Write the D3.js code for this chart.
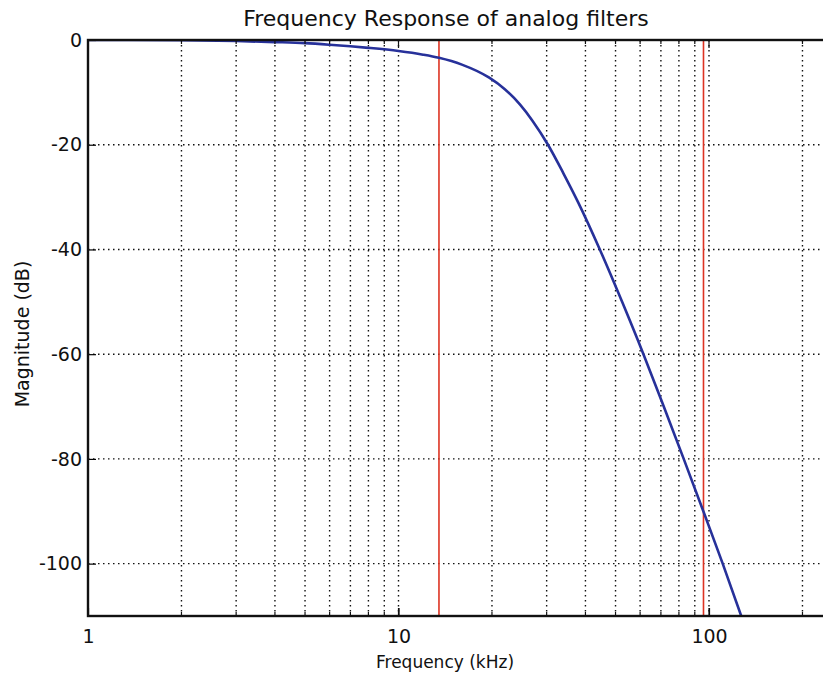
<!DOCTYPE html>
<html>
<head>
<meta charset="utf-8">
<script src="https://cdn.jsdelivr.net/npm/d3@7"></script>
<style>
  body { margin: 0; background: #fff; }
  text { font-family: "DejaVu Sans", sans-serif; fill: #111; }
</style>
</head>
<body>
<svg id="chart" width="823" height="675"></svg>
<script>
// values (kHz, dB)
let freqs = [1, 2, 3, 4, 5, 6, 7, 8, 10, 12, 13.5, 16, 19.6, 22, 24.6, 27, 30.3, 34, 37.9, 44.5, 52.5, 61.5, 71.5, 82.9, 97.3, 110.7, 127];
let magDb = [0, -0.05, -0.2, -0.4, -0.6, -0.9, -1.2, -1.5, -2.1, -2.8, -3.4, -4.7, -7.2, -9.4, -12.3, -15.4, -20, -25.5, -31, -40, -50, -60, -70, -80, -91, -100, -110];
let markers = [13.5, 96];
let xTickVals = [1, 10, 100];
let yTickVals = [0, -20, -40, -60, -80, -100];

let padL = 88, padT = 40, padB = 616;

let svg = d3.select("#chart");

let x = d3.scaleLog().domain([1, 1000]).range([padL, padL + 3 * 310.5]);
let y = d3.scaleLinear().domain([-110, 0]).range([padB, padT]);

let padR = x(1000);

svg.append("clipPath").attr("id", "plotclip")
.append("rect")
.attr("x", padL).attr("y", padT)
.attr("width", padR - padL).attr("height", padB - padT);

// grid: 2..10 in every decade
let minor = [];
for (let d = 1; d < 1000; d *= 10) {
  for (let k = 2; k <= 10; k++) minor.push(d * k);
}

let grid = svg.append("g");

grid.selectAll(".vgrid")
.data(minor)
.enter()
.append("line")
.attr("x1", d => x(d)).attr("x2", d => x(d))
.attr("y1", padT).attr("y2", padB)
.attr("stroke", "#111")
.attr("stroke-width", 1.4)
.attr("stroke-dasharray", "1.5,3.5");

grid.selectAll(".hgrid")
.data(yTickVals.slice(1))
.enter()
.append("line")
.attr("x1", padL).attr("x2", padR)
.attr("y1", d => y(d)).attr("y2", d => y(d))
.attr("stroke", "#111")
.attr("stroke-width", 1.4)
.attr("stroke-dasharray", "1.5,3.5");

// red marker lines
let plot = svg.append("g").attr("clip-path", "url(#plotclip)");

plot.selectAll(".marker")
.data(markers)
.enter()
.append("line")
.attr("x1", d => x(d)).attr("x2", d => x(d))
.attr("y1", padT).attr("y2", padB)
.attr("stroke", "#dd3322")
.attr("stroke-width", 1.6);

// response curve
let line = d3.line()
.x((d, i) => x(freqs[i]))
.y(d => y(d))
.curve(d3.curveMonotoneX);

plot.append("path")
.attr("d", line(magDb))
.attr("fill", "none")
.attr("stroke", "#27319a")
.attr("stroke-width", 2.6);

// axes (ticks inward, like matplotlib)
let xAxis = d3.axisBottom(x)
.tickValues(xTickVals)
.tickFormat(d3.format("d"))
.tickSizeInner(-8)
.tickSizeOuter(0)
.tickPadding(14);

let gx = svg.append("g")
.attr("transform", `translate(0,${padB})`)
.call(xAxis);

gx.select(".domain").remove();
gx.selectAll("text").attr("font-size", 19).attr("font-family", "DejaVu Sans").attr("fill", "#111");

// minor ticks along bottom and top
let minorTicks = svg.append("g");
minor.forEach(v => {
  let len = Number.isInteger(Math.log10(v)) ? 8 : 4;
  minorTicks.append("line")
  .attr("x1", x(v)).attr("x2", x(v))
  .attr("y1", padB).attr("y2", padB - len)
  .attr("stroke", "#111").attr("stroke-width", 1.2);
  minorTicks.append("line")
  .attr("x1", x(v)).attr("x2", x(v))
  .attr("y1", padT).attr("y2", padT + len)
  .attr("stroke", "#111").attr("stroke-width", 1.2);
});

let yAxis = d3.axisLeft(y)
.tickValues(yTickVals)
.tickFormat(d => d === 0 ? "0" : "-" + Math.abs(d))
.tickSizeInner(-8)
.tickSizeOuter(0)
.tickPadding(6);

let gy = svg.append("g")
.attr("transform", `translate(${padL},0)`)
.call(yAxis);

gy.select(".domain").remove();
gy.selectAll("line").attr("stroke-width", 1.2);
gx.selectAll("line").attr("stroke-width", 1.2);
gy.selectAll("text").attr("font-size", 19).attr("font-family", "DejaVu Sans").attr("fill", "#111");

// frame
svg.append("rect")
.attr("x", padL).attr("y", padT)
.attr("width", padR - padL).attr("height", padB - padT)
.attr("fill", "none")
.attr("stroke", "#111")
.attr("stroke-width", 2.4);

// labels
svg.append("text")
.attr("x", 446).attr("y", 26)
.attr("text-anchor", "middle")
.attr("font-size", 22)
.text("Frequency Response of analog filters");

svg.append("text")
.attr("x", 445).attr("y", 668)
.attr("text-anchor", "middle")
.attr("font-size", 17)
.text("Frequency (kHz)");

svg.append("text")
.attr("transform", "translate(29,334) rotate(-90)")
.attr("text-anchor", "middle")
.attr("font-size", 19)
.text("Magnitude (dB)");
</script>
</body>
</html>
